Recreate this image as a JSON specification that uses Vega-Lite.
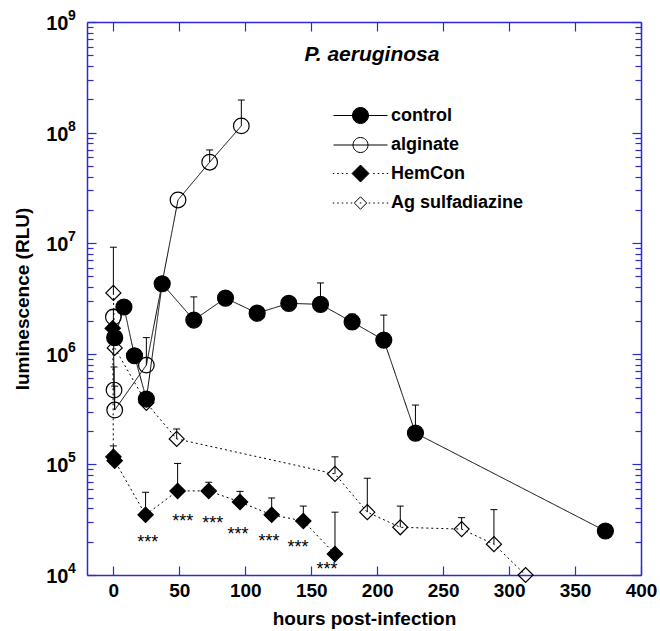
{
  "$schema": "https://vega.github.io/schema/vega-lite/v6.json",
  "width": 554,
  "height": 553,
  "autosize": {"type": "none"},
  "padding": {"left": 87, "top": 22, "right": 19, "bottom": 56},
  "background": "white",
  "config": {
    "view": {"stroke": null},
    "font": "Liberation Sans",
    "axis": {"grid": false, "domainColor": "#2b2bd0", "tickColor": "#2b2bd0", "domainWidth": 1.5, "tickWidth": 1.2, "labelColor": "black", "titleColor": "black"}
  },
  "datasets": {
    "main": [
      {"s": "control", "h": 1, "v": 1400000},
      {"s": "control", "h": 8, "v": 2650000},
      {"s": "control", "h": 16, "v": 960000},
      {"s": "control", "h": 25, "v": 390000},
      {"s": "control", "h": 37, "v": 4300000},
      {"s": "control", "h": 61, "v": 2020000, "u": 3270000},
      {"s": "control", "h": 85, "v": 3190000, "u": 3700000},
      {"s": "control", "h": 109, "v": 2330000},
      {"s": "control", "h": 133, "v": 2860000},
      {"s": "control", "h": 157, "v": 2800000, "u": 4370000},
      {"s": "control", "h": 181, "v": 1940000, "u": 2290000},
      {"s": "control", "h": 205, "v": 1330000, "u": 2240000},
      {"s": "control", "h": 229, "v": 192000, "u": 344000},
      {"s": "control", "h": 373, "v": 25000},
      {"s": "alginate", "h": 0, "v": 2150000, "u": 2500000},
      {"s": "alginate", "h": 0.5, "v": 470000, "u": 760000},
      {"s": "alginate", "h": 1, "v": 310000, "u": 510000},
      {"s": "alginate", "h": 25, "v": 790000, "u": 1400000},
      {"s": "alginate", "h": 49, "v": 24600000},
      {"s": "alginate", "h": 73, "v": 54000000, "u": 69700000},
      {"s": "alginate", "h": 97, "v": 115000000, "u": 197000000},
      {"s": "HemCon", "h": -0.5, "v": 1700000},
      {"s": "HemCon", "h": 0, "v": 117000, "u": 147000},
      {"s": "HemCon", "h": 1, "v": 108000},
      {"s": "HemCon", "h": 24.4, "v": 35000, "u": 56000},
      {"s": "HemCon", "h": 48.7, "v": 57600, "u": 102000},
      {"s": "HemCon", "h": 72.3, "v": 57600, "u": 69000},
      {"s": "HemCon", "h": 96, "v": 45700, "u": 57000},
      {"s": "HemCon", "h": 120, "v": 35000, "u": 49700},
      {"s": "HemCon", "h": 144, "v": 30800, "u": 42000},
      {"s": "HemCon", "h": 168, "v": 15500, "u": 37000},
      {"s": "Ag sulfadiazine", "h": 0, "v": 3550000, "u": 9200000},
      {"s": "Ag sulfadiazine", "h": 1, "v": 1130000},
      {"s": "Ag sulfadiazine", "h": 25, "v": 360000},
      {"s": "Ag sulfadiazine", "h": 48, "v": 170000, "u": 209000},
      {"s": "Ag sulfadiazine", "h": 168, "v": 82000, "u": 117000},
      {"s": "Ag sulfadiazine", "h": 192.5, "v": 37000, "u": 75000},
      {"s": "Ag sulfadiazine", "h": 217.5, "v": 27000, "u": 42000},
      {"s": "Ag sulfadiazine", "h": 264, "v": 26000, "u": 33000},
      {"s": "Ag sulfadiazine", "h": 288.5, "v": 19000, "u": 39000},
      {"s": "Ag sulfadiazine", "h": 312.5, "v": 10000}
    ],
    "stars": [
      {"h": 26, "v": 21600},
      {"h": 52.5, "v": 33400},
      {"h": 75.3, "v": 32000},
      {"h": 94.4, "v": 25500},
      {"h": 118, "v": 22000},
      {"h": 140, "v": 19500},
      {"h": 162, "v": 12300}
    ],
    "powers": [
      {"v": 10000, "e": "4"},
      {"v": 100000, "e": "5"},
      {"v": 1000000, "e": "6"},
      {"v": 10000000, "e": "7"},
      {"v": 100000000, "e": "8"},
      {"v": 1000000000, "e": "9"}
    ],
    "series": [
      {"s": "control"}, {"s": "alginate"}, {"s": "HemCon"}, {"s": "Ag sulfadiazine"}
    ]
  },
  "resolve": {
    "axis": {"x": "independent", "y": "independent"},
    "scale": {"shape": "independent", "fill": "independent", "size": "independent", "strokeDash": "independent"}
  },
  "layer": [
    {
      "data": {"name": "main"},
      "transform": [{"filter": "isValid(datum.u)"}],
      "mark": {"type": "rule", "stroke": "black", "strokeWidth": 1},
      "encoding": {
        "x": {"field": "h", "type": "quantitative",
          "scale": {"domain": [-20, 400], "nice": false, "zero": false},
          "axis": {"orient": "bottom", "values": [0, 50, 100, 150, 200, 250, 300, 350, 400], "tickSize": -9, "labelPadding": 15,
            "labelFontSize": 19, "labelFontWeight": "bold", "labelFont": "Liberation Sans", "labelFlush": false,
            "title": "hours post-infection", "titleFontSize": 19, "titleFontWeight": "bold", "titleFont": "Liberation Sans", "titlePadding": 9}},
        "y": {"field": "v", "type": "quantitative",
          "scale": {"type": "log", "domain": [10000, 1000000000], "nice": false},
          "axis": {"orient": "left",
            "values": [10000, 20000, 30000, 40000, 50000, 60000, 70000, 80000, 90000, 100000, 200000, 300000, 400000, 500000, 600000, 700000, 800000, 900000, 1000000, 2000000, 3000000, 4000000, 5000000, 6000000, 7000000, 8000000, 9000000, 10000000, 20000000, 30000000, 40000000, 50000000, 60000000, 70000000, 80000000, 90000000, 100000000, 200000000, 300000000, 400000000, 500000000, 600000000, 700000000, 800000000, 900000000, 1000000000],
            "labelExpr": "abs(log(datum.value)/LN10 - round(log(datum.value)/LN10)) < 0.01 ? '10' : ''",
            "tickSize": {"condition": {"test": "abs(log(datum.value)/LN10 - round(log(datum.value)/LN10)) < 0.01", "value": -9}, "value": -6},
            "labelPadding": 28, "labelFontSize": 20, "labelFontWeight": "bold", "labelFont": "Liberation Sans", "labelFlush": false, "labelOffset": 1.5,
            "title": "luminescence (RLU)", "titleFontSize": 19, "titleFontWeight": "bold", "titleFont": "Liberation Sans", "titlePadding": 13}},
        "y2": {"field": "u"}
      }
    },
    {
      "data": {"name": "main"},
      "transform": [{"filter": "isValid(datum.u)"}],
      "mark": {"type": "point", "shape": "M-1,0L1,0", "size": 49, "stroke": "black", "strokeWidth": 1, "filled": false, "opacity": 1},
      "encoding": {
        "x": {"field": "h", "type": "quantitative",
          "axis": {"orient": "top", "values": [0, 50, 100, 150, 200, 250, 300, 350, 400], "tickSize": -9, "labels": false, "title": null}},
        "y": {"field": "u", "type": "quantitative",
          "axis": {"orient": "right", "labels": false, "title": null,
            "values": [10000, 20000, 30000, 40000, 50000, 60000, 70000, 80000, 90000, 100000, 200000, 300000, 400000, 500000, 600000, 700000, 800000, 900000, 1000000, 2000000, 3000000, 4000000, 5000000, 6000000, 7000000, 8000000, 9000000, 10000000, 20000000, 30000000, 40000000, 50000000, 60000000, 70000000, 80000000, 90000000, 100000000, 200000000, 300000000, 400000000, 500000000, 600000000, 700000000, 800000000, 900000000, 1000000000],
            "tickSize": {"condition": {"test": "abs(log(datum.value)/LN10 - round(log(datum.value)/LN10)) < 0.01", "value": -9}, "value": -6}}}
      }
    },
    {
      "data": {"name": "main"},
      "mark": {"type": "line", "stroke": "black", "strokeWidth": 1},
      "encoding": {
        "x": {"field": "h", "type": "quantitative", "axis": null},
        "y": {"field": "v", "type": "quantitative", "axis": null},
        "detail": {"field": "s"},
        "strokeDash": {"field": "s", "type": "nominal", "legend": null,
          "scale": {"domain": ["control", "alginate", "HemCon", "Ag sulfadiazine"], "range": [[1, 0], [1, 0], [2, 3], [2, 3]]}}
      }
    },
    {
      "data": {"name": "main"},
      "mark": {"type": "point", "filled": true, "stroke": "black", "strokeWidth": 1.2, "opacity": 1},
      "encoding": {
        "x": {"field": "h", "type": "quantitative", "axis": null},
        "y": {"field": "v", "type": "quantitative", "axis": null},
        "shape": {"field": "s", "type": "nominal", "legend": null,
          "scale": {"domain": ["control", "alginate", "HemCon", "Ag sulfadiazine"], "range": ["circle", "circle", "diamond", "diamond"]}},
        "fill": {"field": "s", "type": "nominal", "legend": null,
          "scale": {"domain": ["control", "alginate", "HemCon", "Ag sulfadiazine"], "range": ["black", "transparent", "black", "transparent"]}},
        "size": {"field": "s", "type": "nominal", "legend": null,
          "scale": {"domain": ["control", "alginate", "HemCon", "Ag sulfadiazine"], "range": [256, 225, 300, 160]}}
      }
    },
    {
      "data": {"name": "stars"},
      "mark": {"type": "text", "text": "***", "fontSize": 18, "font": "Liberation Sans", "align": "center", "baseline": "alphabetic", "dy": 10, "color": "black"},
      "encoding": {
        "x": {"field": "h", "type": "quantitative", "axis": null},
        "y": {"field": "v", "type": "quantitative", "axis": null}
      }
    },
    {
      "data": {"name": "powers"},
      "mark": {"type": "text", "fontSize": 14, "fontWeight": "bold", "font": "Liberation Sans", "align": "left", "baseline": "middle", "dx": -19, "dy": -6, "color": "black"},
      "encoding": {
        "x": {"datum": -20, "type": "quantitative", "axis": null},
        "y": {"field": "v", "type": "quantitative", "axis": null},
        "text": {"field": "e"}
      }
    },
    {
      "data": {"values": [{}]},
      "mark": {"type": "text", "text": "P. aeruginosa", "fontSize": 21, "fontWeight": "bold", "fontStyle": "italic", "font": "Liberation Sans", "align": "center", "baseline": "middle", "color": "black"},
      "encoding": {
        "x": {"datum": 196, "type": "quantitative", "axis": null},
        "y": {"datum": 500000000, "type": "quantitative", "axis": null}
      }
    },
    {
      "data": {"name": "series"},
      "mark": {"type": "point", "filled": true, "opacity": 0, "stroke": "black", "size": 400},
      "encoding": {
        "x": {"datum": 200, "type": "quantitative", "axis": null},
        "y": {"datum": 1000000, "type": "quantitative", "axis": null},
        "shape": {"field": "s", "type": "nominal",
          "scale": {"domain": ["control", "alginate", "HemCon", "Ag sulfadiazine"],
            "range": [
              "M-2.7,0L2.7,0M-0.8,0A0.8,0.8,0,1,0,0.8,0A0.8,0.8,0,1,0,-0.8,0Z",
              "M-2.7,0L2.7,0M-0.75,0A0.75,0.75,0,1,0,0.75,0A0.75,0.75,0,1,0,-0.75,0Z",
              "M-2.775,0h0.15M-2.325,0h0.15M-1.875,0h0.15M-1.425,0h0.15M-0.525,0h0.15M-0.075,0h0.15M0.375,0h0.15M1.275,0h0.15M1.725,0h0.15M2.175,0h0.15M2.625,0h0.15M-0.85,0L0,-0.85L0.85,0L0,0.85Z",
              "M-2.775,0h0.15M-2.325,0h0.15M-1.875,0h0.15M-1.425,0h0.15M-0.975,0h0.15M-0.075,0h0.15M0.825,0h0.15M1.275,0h0.15M1.725,0h0.15M2.175,0h0.15M2.625,0h0.15M-0.62,0L0,-0.62L0.62,0L0,0.62Z"
            ]},
          "legend": {"orient": "none", "legendX": 263, "legendY": 83, "title": null, "padding": 0, "rowPadding": 8.5,
            "symbolSize": 400, "symbolOpacity": 1, "symbolStrokeColor": "black", "symbolStrokeWidth": 1,
            "labelOffset": 20, "labelFontSize": 18, "labelFontWeight": "bold", "labelFont": "Liberation Sans", "labelColor": "black", "labelLimit": 0, "labelBaseline": "middle",
            "encode": {"symbols": {"update": {"stroke": {"value": "black"}, "strokeWidth": {"value": 1}, "opacity": {"value": 1}}}}}},
        "fill": {"field": "s", "type": "nominal",
          "scale": {"domain": ["control", "alginate", "HemCon", "Ag sulfadiazine"], "range": ["black", "transparent", "black", "transparent"]},
          "legend": {"orient": "none", "legendX": 263, "legendY": 83, "title": null, "padding": 0, "rowPadding": 8.5,
            "symbolSize": 400, "symbolOpacity": 1, "symbolStrokeColor": "black", "symbolStrokeWidth": 1,
            "labelOffset": 20, "labelFontSize": 18, "labelFontWeight": "bold", "labelFont": "Liberation Sans", "labelColor": "black", "labelLimit": 0, "labelBaseline": "middle",
            "encode": {"symbols": {"update": {"stroke": {"value": "black"}, "strokeWidth": {"value": 1}, "opacity": {"value": 1}}}}}}
      }
    }
  ]
}
